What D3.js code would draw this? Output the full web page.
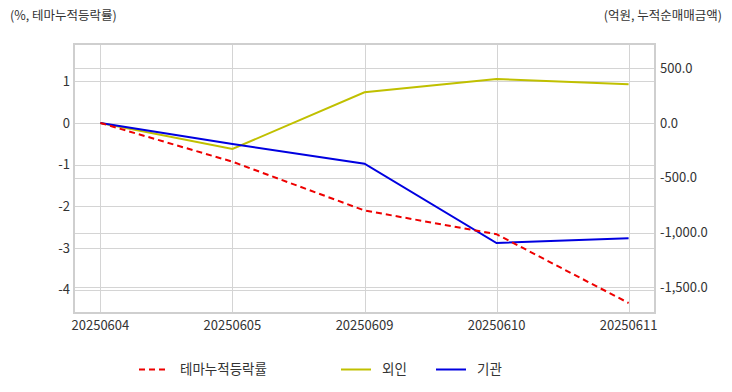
<!DOCTYPE html>
<html><head><meta charset="utf-8">
<script src="https://cdn.jsdelivr.net/npm/d3@7"></script>
<style>body{margin:0;background:#fff}svg{display:block}text{font-family:"Noto Sans CJK KR","Noto Sans",sans-serif}</style>
</head><body><svg id="c" width="732" height="392"></svg>
<script>
const dates = ["20250604","20250605","20250609","20250610","20250611"];
const themeRate = [0, -0.93, -2.1, -2.67, -4.32];
const foreign = [0, -237, 280, 401, 353];
const institution = [0, -192, -371, -1095, -1052];
const leftTicks = [1, 0, -1, -2, -3, -4];
const rightTicks = [500, 0, -500, -1000, -1500];
const leftTitle = "(%, 테마누적등락률)";
const rightTitle = "(억원, 누적순매매금액)";
const seriesNames = ["테마누적등락률", "외인", "기관"];

const svg = d3.select("#c");
const L = 74, R = 655, T = 44, B = 313;
const x = d3.scalePoint().domain(dates).range([L, R]).padding(0.2);
const yL = d3.scaleLinear().domain([-4.56, 1.895]).range([B, T]);
const yR = d3.scaleLinear().domain([-1734, 721]).range([B, T]);

const grid = svg.append("g").attr("stroke", "#d4d4d4").attr("stroke-width", 1);
leftTicks.forEach(t => grid.append("line").attr("x1", L).attr("x2", R).attr("y1", Math.round(yL(t))+0.5).attr("y2", Math.round(yL(t))+0.5));
rightTicks.forEach(t => grid.append("line").attr("x1", L).attr("x2", R).attr("y1", Math.round(yR(t))+0.5).attr("y2", Math.round(yR(t))+0.5));
dates.forEach(d => grid.append("line").attr("x1", Math.round(x(d))+0.5).attr("x2", Math.round(x(d))+0.5).attr("y1", T).attr("y2", B));
svg.append("rect").attr("x", L).attr("y", T).attr("width", R-L).attr("height", B-T)
  .attr("fill", "none").attr("stroke", "#cfcfcf").attr("stroke-width", 2);

const tc = "#333";
const fs = 13;
svg.append("g").selectAll("text").data(leftTicks).join("text")
  .attr("x", 70).attr("y", d => yL(d)).attr("dy", "0.35em").attr("text-anchor", "end")
  .attr("font-size", fs).attr("fill", tc).text(d => d3.format("d")(d).replace("−","-"));
svg.append("g").selectAll("text").data(rightTicks).join("text")
  .attr("x", 660).attr("y", d => yR(d)).attr("dy", "0.35em").attr("text-anchor", "start")
  .attr("font-size", fs).attr("fill", tc).text(d => d3.format(",.1f")(d).replace("−","-"));
svg.append("g").selectAll("text").data(dates).join("text")
  .attr("x", d => x(d)).attr("y", 325).attr("dy", "0.35em").attr("text-anchor", "middle")
  .attr("font-size", fs).attr("fill", tc).text(d => d);

svg.append("text").attr("x", 10).attr("y", 16).attr("dy", "0.35em").attr("font-size", 12.5).attr("fill", tc).text(leftTitle);
svg.append("text").attr("x", 722).attr("y", 16).attr("dy", "0.35em").attr("text-anchor", "end").attr("font-size", 12.5).attr("fill", tc).text(rightTitle);

const lineL = d3.line().x((d,i) => x(dates[i])).y(d => yL(d));
const lineR = d3.line().x((d,i) => x(dates[i])).y(d => yR(d));
svg.append("path").attr("d", lineR(foreign)).attr("fill", "none").attr("stroke", "#c0c000").attr("stroke-width", 2);
svg.append("path").attr("d", lineR(institution)).attr("fill", "none").attr("stroke", "#0000e0").attr("stroke-width", 2);
svg.append("path").attr("d", lineL(themeRate)).attr("fill", "none").attr("stroke", "#ee0000").attr("stroke-width", 2).attr("stroke-dasharray", "6,4");

const legend = [
  {name: seriesNames[0], color: "#ee0000", dash: "6,4", x: 139, tx: 180},
  {name: seriesNames[1], color: "#c0c000", dash: null, x: 341, tx: 382},
  {name: seriesNames[2], color: "#0000e0", dash: null, x: 436, tx: 477}
];
const lg = svg.append("g");
legend.forEach(l => {
  lg.append("line").attr("x1", l.x).attr("x2", l.x+30).attr("y1", 369.5).attr("y2", 369.5)
    .attr("stroke", l.color).attr("stroke-width", 2).attr("stroke-dasharray", l.dash);
  lg.append("text").attr("x", l.tx).attr("y", 369).attr("dy", "0.35em").attr("font-size", 13.5).attr("fill", tc).text(l.name);
});
</script></body></html>
